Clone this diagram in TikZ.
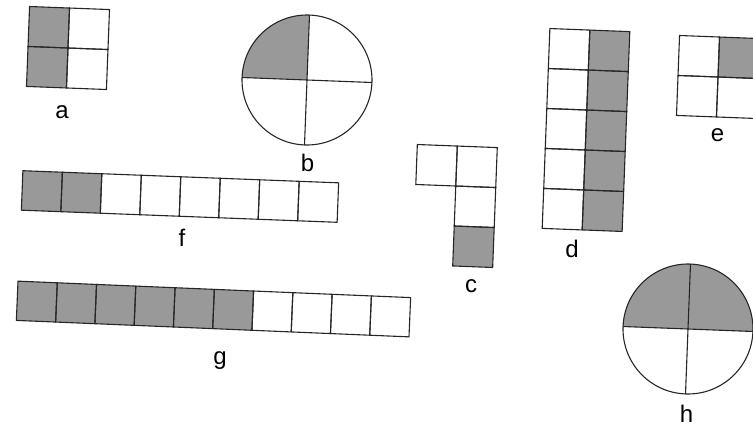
\documentclass[tikz,border=0pt]{standalone}
\usepackage{fontspec}
\setmainfont{Liberation Sans}
\begin{document}
\begin{tikzpicture}[x=1pt,y=-1pt,line width=1.1pt,
  shaded/.style={fill=black!40},
  box/.style={draw=black!85},
  lbl/.style={anchor=base,inner sep=0.5pt,font=\fontsize{24}{26}\selectfont}]
\useasboundingbox (0,0) rectangle (753,426);
\clip (0,0) rectangle (753,426);
% a: 2x2 square, left half shaded
\begin{scope}[rotate around={-2.2:(68,48)}]
\fill[shaded] (28,8) rectangle (68,88);
\foreach \i in {0,1} \foreach \j in {0,1} \draw[box] (28+40*\i,8+40*\j) rectangle +(40,40);
\end{scope}
% b: circle, one quarter shaded
\begin{scope}[rotate around={-2.2:(307,80)}]
\begin{scope} \clip (307,80) circle (65pt); \fill[shaded] (307,80) rectangle (237,10); \end{scope}
\draw[box] (307,80) circle (65pt) (242,80) -- (372,80) (307,15) -- (307,145);
\end{scope}
% f: strip of 8, two shaded
\begin{scope}[rotate around={-2.2:(180,196.5)}]
\fill[shaded] (22,176.75) rectangle +(79,39.5);
\foreach \i in {0,...,7} \draw[box] (22+39.5*\i,176.75) rectangle +(39.5,39.5);
\end{scope}
% g: strip of 10, six shaded
\begin{scope}[rotate around={-2.4:(213.5,309)}]
\fill[shaded] (17,289.35) rectangle +(235.8,39.3);
\foreach \i in {0,...,9} \draw[box] (17+39.3*\i,289.35) rectangle +(39.3,39.3);
\end{scope}
% c: L shape, bottom cell shaded
\begin{scope}[rotate around={-2.2:(455,206)}]
\fill[shaded] (455,226) rectangle +(40,40);
\foreach \x/\y in {415/146,455/146,455/186,455/226} \draw[box] (\x,\y) rectangle +(40,40);
\end{scope}
% d: 2x5, right column shaded
\begin{scope}[rotate around={-2.2:(586,130)}]
\fill[shaded] (586,30) rectangle (626,230);
\foreach \i in {0,1} \foreach \j in {0,...,4} \draw[box] (546+40*\i,30+40*\j) rectangle +(40,40);
\end{scope}
% e: 2x2, top right shaded
\begin{scope}[rotate around={-2.2:(718,77)}]
\fill[shaded] (718,37) rectangle +(40,40);
\foreach \i in {0,1} \foreach \j in {0,1} \draw[box] (678+40*\i,37+40*\j) rectangle +(40,40);
\end{scope}
% h: circle, upper half shaded
\begin{scope}[rotate around={-2.2:(688,329)}]
\begin{scope} \clip (688,329) circle (65pt); \fill[shaded] (618,259) rectangle (758,329); \end{scope}
\draw[box] (688,329) circle (65pt) (623,329) -- (753,329) (688,264) -- (688,394);
\end{scope}
% labels
\node[lbl] (la) at (62,118) {a};
\node[lbl] (lb) at (307.5,171) {b};
\node[lbl] (lf) at (182,246) {f};
\node[lbl] (lg) at (220,364) {g};
\node[lbl] (lc) at (471,292) {c};
\node[lbl] (ld) at (572,257) {d};
\node[lbl] (le) at (717.5,141) {e};
\node[lbl] (lh) at (686.5,422) {h};
\end{tikzpicture}
\end{document}
